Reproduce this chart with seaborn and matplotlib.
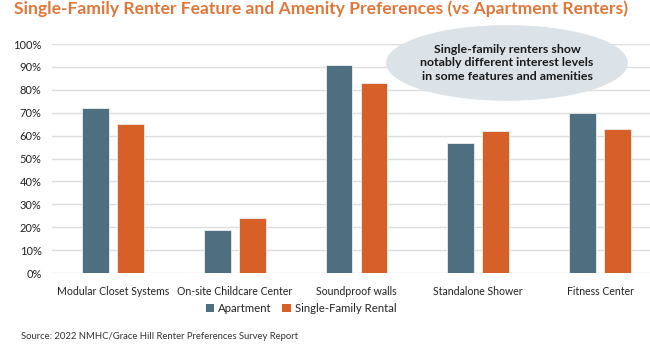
import matplotlib
matplotlib.use("Agg")
import matplotlib.pyplot as plt
from matplotlib.patches import Ellipse, Patch
import seaborn as sns
import pandas as pd

categories = ["Modular Closet Systems", "On-site Childcare Center", "Soundproof walls",
              "Standalone Shower", "Fitness Center"]
apartment = [72, 19, 91, 57, 70]
single_family = [65, 24, 83, 62, 63]
series_names = ["Apartment", "Single-Family Rental"]
y_ticks = [0, 10, 20, 30, 40, 50, 60, 70, 80, 90, 100]

colors = {"Apartment": "#4E6F7F", "Single-Family Rental": "#D66027"}

df = pd.DataFrame({
    "feature": categories * 2,
    "series": [series_names[0]] * len(categories) + [series_names[1]] * len(categories),
    "value": apartment + single_family,
})

sns.set_style("white")
plt.rcParams["font.family"] = ["Lato", "DejaVu Sans"]

fig = plt.figure(figsize=(6.5, 3.44), dpi=100)
ax = fig.add_axes([0.08, 0.206, 0.92, 0.666])

sns.barplot(data=df, x="feature", y="value", hue="series", order=categories,
            hue_order=series_names, palette=colors, saturation=1, width=0.574, gap=0.23,
            edgecolor="#EDEDED", linewidth=0.6, legend=False, ax=ax, zorder=3)

ax.set_ylim(0, 100)
ax.set_xlim(-0.5, 4.41)
ax.set_yticks(y_ticks)
ax.set_yticklabels([f"{t}%" for t in y_ticks], fontsize=8, color="#222222")
ax.tick_params(axis="x", labelsize=7.6, colors="#222222", length=0, pad=9)
ax.tick_params(axis="y", length=0, pad=7.5)
ax.set_xlabel("")
ax.set_ylabel("")
ax.grid(axis="y", color="#DDDDDD", linewidth=1.0, zorder=0)
for s in ax.spines.values():
    s.set_visible(False)

# callout bubble
ell = Ellipse((0.78, 0.817), 0.372, 0.22, transform=fig.transFigure,
              facecolor="#DCE3E8", edgecolor="none", zorder=5)
fig.patches.append(ell)
fig.text(0.78, 0.817, "Single-family renters show\nnotably different interest levels\nin some features and amenities",
         ha="center", va="center", fontsize=8.9, fontweight="bold", color="#1A1A1A",
         linespacing=1.25, zorder=6)

fig.text(0.022, 0.975, "Single-Family Renter Feature and Amenity Preferences (vs Apartment Renters)",
         ha="left", va="center", fontsize=12.6, fontweight="bold", color="#E0773A")

handles = [Patch(facecolor=colors[n], edgecolor="none") for n in series_names]
fig.legend(handles, series_names, loc="center", bbox_to_anchor=(0.463, 0.103), ncol=2,
           frameon=False, fontsize=8.2, handlelength=0.75, handleheight=0.75,
           handletextpad=0.35, columnspacing=0.9)

fig.text(0.032, 0.022, "Source: 2022 NMHC/Grace Hill Renter Preferences Survey Report",
         ha="left", va="center", fontsize=6.8, color="#333333")

fig.savefig("out.png", dpi=100, facecolor="white")
